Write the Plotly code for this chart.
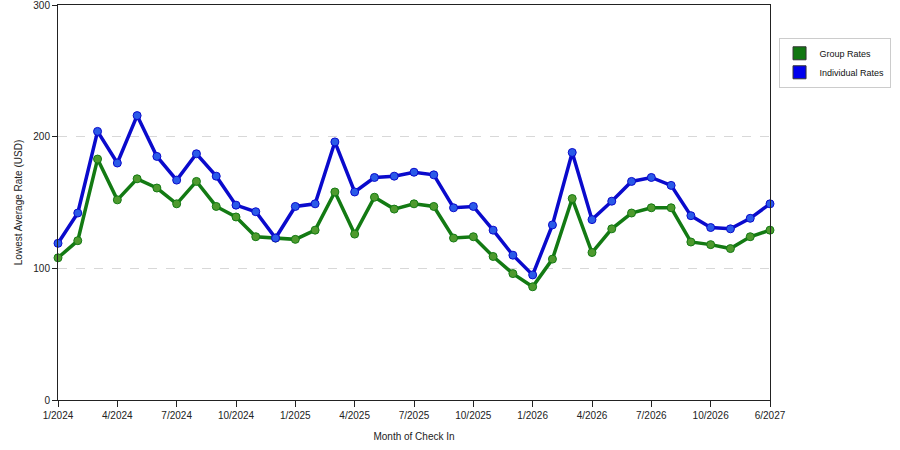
import plotly.graph_objects as go

# one point per month, 1/2024 onward
months = list(range(37))
tick_pos = [0, 3, 6, 9, 12, 15, 18, 21, 24, 27, 30, 33, 36]
tick_labels = ["1/2024", "4/2024", "7/2024", "10/2024", "1/2025", "4/2025", "7/2025",
               "10/2025", "1/2026", "4/2026", "7/2026", "10/2026", "6/2027"]

group_rates = [108, 121, 183, 152, 168, 161, 149, 166, 147, 139, 124, 123, 122, 129,
               158, 126, 154, 145, 149, 147, 123, 124, 109, 96, 86, 107, 153, 112,
               130, 142, 146, 146, 120, 118, 115, 124, 129]
individual_rates = [119, 142, 204, 180, 216, 185, 167, 187, 170, 148, 143, 123, 147, 149,
                    196, 158, 169, 170, 173, 171, 146, 147, 129, 110, 95, 133, 188, 137,
                    151, 166, 169, 163, 140, 131, 130, 138, 149]

font = dict(family="Liberation Sans, Arial, sans-serif", size=10, color="#222")

fig = go.Figure()
series = [
    ("Group Rates", group_rates, "#137a13", "#4e9a2e", "#117711"),
    ("Individual Rates", individual_rates, "#0a0acc", "#2a5ae8", "#0000ee"),
]
for name, vals, line_col, mark_col, swatch in series:
    fig.add_trace(go.Scatter(
        x=months, y=vals, mode="lines+markers", name=name, showlegend=False,
        line=dict(color=line_col, width=3.5),
        marker=dict(size=8, color=mark_col, line=dict(color=line_col, width=1)),
        cliponaxis=False,
    ))
    # legend swatch
    fig.add_trace(go.Scatter(
        x=[None], y=[None], mode="markers", name=name,
        marker=dict(symbol="square", size=13, color=swatch, line=dict(color="#333", width=1)),
    ))

fig.update_layout(
    width=900, height=450,
    margin=dict(l=58, r=130, t=5, b=50),
    paper_bgcolor="white", plot_bgcolor="white",
    font=font,
    legend=dict(x=1.012, y=0.917, xanchor="left", yanchor="top",
                bordercolor="#cccccc", borderwidth=1, bgcolor="white",
                font=dict(family=font["family"], size=9, color="#111"),
                itemwidth=30, tracegroupgap=2),
    xaxis=dict(
        range=[0, 36], tickvals=tick_pos, ticktext=tick_labels,
        showgrid=False, zeroline=False, automargin=False,
        showline=True, linecolor="#222", linewidth=1, mirror=True,
        ticks="outside", ticklen=6, tickcolor="#222", ticklabeloverflow="allow",
        title=dict(text="Month of Check In", font=dict(size=10), standoff=12),
    ),
    yaxis=dict(
        range=[0, 300], tickvals=[0, 100, 200, 300],
        showgrid=True, gridcolor="#d8d8d8", griddash="dash", gridwidth=1,
        zeroline=False, automargin=False,
        showline=True, linecolor="#222", linewidth=1, mirror=True,
        ticks="outside", ticklen=5, tickcolor="#222", ticklabeloverflow="allow",
        title=dict(text="Lowest Average Rate (USD)", font=dict(size=10), standoff=8),
    ),
)

fig.write_html("out.html", config={"displayModeBar": False},
               post_script="document.body.style.margin='0';")
